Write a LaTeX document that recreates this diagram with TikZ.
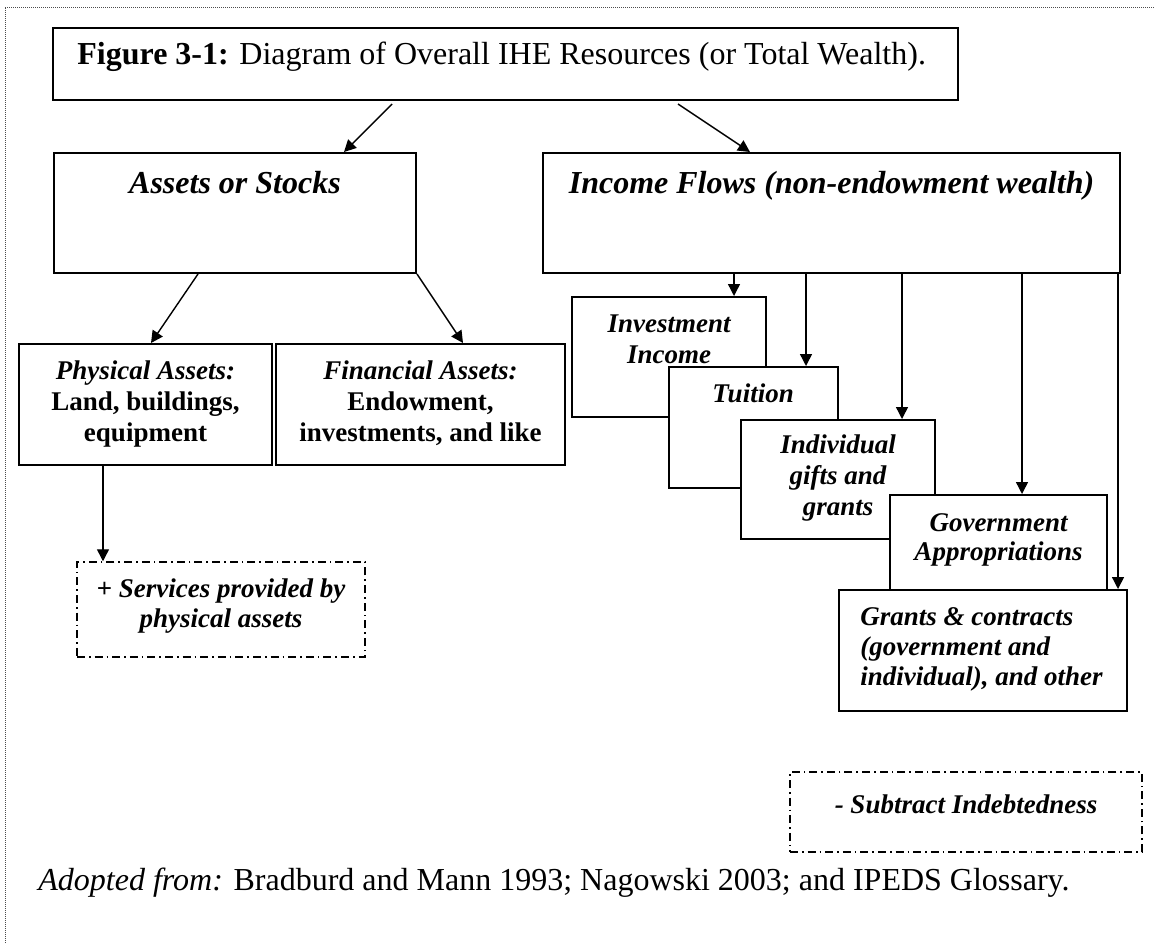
\documentclass[tikz,border=0pt]{standalone}
\usepackage{fontspec}
\setmainfont{Liberation Serif}
\usetikzlibrary{arrows.meta,fit}
\newcommand{\fs}{\rule{0pt}{12pt}}
\begin{document}
\begin{tikzpicture}[x=0.5pt,y=-0.5pt,
  box/.style={draw, line width=1pt, fill=white, inner sep=0pt},
  dbox/.style={draw, line width=0.75pt, inner sep=0pt, dash pattern=on 4pt off 2pt on 0.8pt off 2pt},
  arr/.style={line width=0.7pt, -{Triangle[length=6pt,width=6pt]}},
  border/.style={line width=0.5pt, black!70, dash pattern=on 0.5pt off 0.5pt},
  hd/.style={font=\fontsize{16}{19}\selectfont\bfseries\itshape, anchor=north, inner sep=0pt},
  bt/.style={font=\fontsize{13.5}{15.5}\selectfont\bfseries, align=center, anchor=north, inner sep=0pt},
  bti/.style={bt, font=\fontsize{13.5}{15.5}\selectfont\bfseries\itshape},
]
\useasboundingbox (0,0) rectangle (1154,943);
\draw[border] (5,943) -- (5,7) -- (1154,7);

% title
\node[box, fit={(53,28) (958,100)}] (title) {};
\node[anchor=north west, inner sep=0pt, font=\fontsize{16}{19}\selectfont] (titletext) at (77,40)
  {\fs\textbf{Figure 3-1:} Diagram of Overall IHE Resources (or Total Wealth).};

% level 2
\node[box, fit={(54,153) (416,273)}] (assets) {};
\node[hd] (assetstext) at (235,169) {\fs Assets or Stocks};
\node[box, fit={(543,153) (1120,273)}] (income) {};
\node[hd] (incometext) at (831.5,169) {\fs Income Flows (non-endowment wealth)};

\coordinate (a1s) at (392,104); \coordinate (a1e) at (344,0);
\draw[arr] (a1s) -- (a1e |- assets.north);
\coordinate (a2s) at (678,104); \coordinate (a2e) at (750,0);
\draw[arr] (a2s) -- (a2e |- income.north);

% assets children
\node[box, fit={(19,344) (272,465)}] (phys) {};
\node[bt] (phystext) at (145.5,355) {\fs\textit{Physical Assets:}\\Land, buildings,\\equipment};
\node[box, fit={(276,344) (565,465)}] (fin) {};
\node[bt] (fintext) at (420.5,355) {\fs\textit{Financial Assets:}\\Endowment,\\investments, and like};

\coordinate (p1) at (198,0); \coordinate (p2) at (151,0);
\draw[arr] (p1 |- assets.south) -- (p2 |- phys.north);
\coordinate (f2) at (463,0);
\draw[arr] (assets.south east) -- (f2 |- fin.north);

\node[dbox, fit={(77,562) (365,657)}] (serv) {};
\node[bti, font=\fontsize{13.5}{15}\selectfont\bfseries\itshape] (servtext) at (221,573) {\fs + Services provided by\\physical assets};
\coordinate (d1) at (103,0);
\draw[arr] (d1 |- phys.south) -- (d1 |- serv.north);

% income children
\node[box, fit={(572,297) (766,417)}] (inv) {};
\node[bti] (invtext) at (669,308) {\fs Investment\\Income};
\node[box, fit={(668.5,367) (838,488)}] (tui) {};
\node[bti] (tuitext) at (753,378) {\fs Tuition};
\node[box, fit={(741,420) (935,539)}] (ind) {};
\node[bti] (indtext) at (838,429) {\fs Individual\\gifts and\\grants};
\node[box, fit={(890,495) (1107,590)}] (gov) {};
\node[bti, font=\fontsize{13.5}{14.5}\selectfont\bfseries\itshape] (govtext) at (998.5,507) {\fs Government\\Appropriations};
\node[box, fit={(839,590) (1127,711)}] (grants) {};
\node[bti, align=left, anchor=north west, font=\fontsize{13.5}{15}\selectfont\bfseries\itshape] (grantstext) at (860,601)
  {\fs Grants \& contracts\\(government and\\individual), and other};

\coordinate (v1) at (734,0); \coordinate (v2) at (806,0);
\coordinate (v3) at (902,0); \coordinate (v4) at (1022,0);
\draw[arr] (v1 |- income.south) -- (v1 |- inv.north);
\draw[arr] (v2 |- income.south) -- (v2 |- tui.north);
\draw[arr] (v3 |- income.south) -- (v3 |- ind.north);
\draw[arr] (v4 |- income.south) -- (v4 |- gov.north);
\coordinate (v5) at (1118,0);
\draw[arr] (v5 |- income.south) -- (v5 |- grants.north);

% subtract
\node[dbox, fit={(790,772) (1142,852)}] (sub) {};
\node[bti] (subtext) at (966,789) {\fs - Subtract Indebtedness};

% source
\node[anchor=north west, inner sep=0pt, font=\fontsize{16}{19}\selectfont] (src) at (38,866)
  {\fs\textit{Adopted from:} Bradburd and Mann 1993; Nagowski 2003; and IPEDS Glossary.};
\end{tikzpicture}
\end{document}
